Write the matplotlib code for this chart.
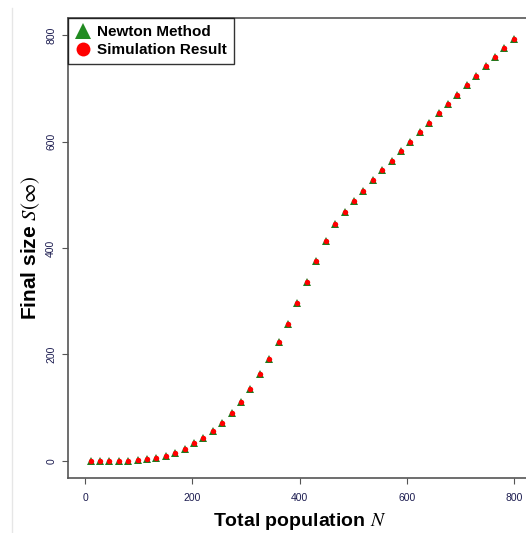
import matplotlib.pyplot as plt
from matplotlib.lines import Line2D

# --- values ---
total_population = [10, 27.6, 45.1, 62.7, 80.2, 97.8, 115.3, 132.9, 150.4, 168.0,
                    185.6, 203.1, 220.7, 238.2, 255.8, 273.3, 290.9, 308.4, 326.0, 343.6,
                    361.1, 378.7, 396.2, 413.8, 431.3, 448.9, 466.4, 484.0, 501.6, 519.1,
                    536.7, 554.2, 571.8, 589.3, 606.9, 624.4, 642.0, 659.6, 677.1, 694.7,
                    712.2, 729.8, 747.3, 764.9, 782.4, 800]
newton_final = [0, 0, 0, 0, 0, 1, 3, 6, 10, 15,
                22, 33, 44, 56, 72, 90, 111, 136, 163, 191,
                224, 258, 296, 336, 376, 414, 445, 468, 489, 508,
                528, 546, 564, 582, 600, 617, 635, 653, 671, 688,
                706, 723, 741, 758, 776, 793]
simulation_final = [0, 0, 0, 0, 0, 1, 3, 6, 10, 15,
                    22, 33, 44, 56, 72, 90, 111, 136, 163, 191,
                    224, 258, 296, 336, 376, 414, 445, 468, 489, 508,
                    528, 546, 564, 582, 600, 617, 635, 653, 671, 688,
                    706, 723, 741, 758, 776, 793]
x_ticks = [0, 200, 400, 600, 800]
y_ticks = [0, 200, 400, 600, 800]

plt.rcParams['font.family'] = ['Liberation Sans', 'DejaVu Sans']
plt.rcParams['mathtext.fontset'] = 'stix'

fig = plt.figure(figsize=(5.26, 5.33), dpi=100)
ax = fig.add_axes([68 / 526, 55 / 533, 463 / 526, 460 / 533])

ax.plot(total_population, newton_final, linestyle='none', marker='^',
        color='#1f7a1f', markersize=5.3, markeredgewidth=0)
ax.plot(total_population, simulation_final, linestyle='none', marker='o',
        color='#FF0000', markersize=3.9, markeredgewidth=0)

ax.set_xlim(-32, 832)
ax.set_ylim(-32, 832)
ax.set_xticks(x_ticks)
ax.set_yticks(y_ticks)
ax.tick_params(axis='both', length=4.5, width=0.8, color='#555555',
               labelsize=7.5, labelcolor='#1c1c50')
ax.tick_params(axis='x', pad=6)
ax.tick_params(axis='y', pad=4)
for lbl in ax.get_yticklabels():
    lbl.set_rotation(90)
    lbl.set_va('center')

for side in ['left', 'bottom', 'top']:
    ax.spines[side].set_color('#555555')
    ax.spines[side].set_linewidth(1.2)
ax.spines['right'].set_visible(False)

ax.set_xlabel('Total population $N$', fontsize=14, fontweight='bold', labelpad=6)
ax.set_ylabel('Final size $S(\\infty)$', fontsize=15, fontweight='bold', labelpad=3)

handles = [
    Line2D([], [], linestyle='none', marker='^', color='#228B22', markersize=11, markeredgewidth=0),
    Line2D([], [], linestyle='none', marker='o', color='#FF0000', markersize=10, markeredgewidth=0),
]
leg = ax.legend(handles, ['Newton Method', 'Simulation Result'], loc='upper left',
                bbox_to_anchor=(0, 1), borderaxespad=0, frameon=True, fancybox=False,
                edgecolor='black', handletextpad=0.35, handlelength=1.1,
                borderpad=0.45, labelspacing=0.3, prop={'weight': 'bold', 'size': 11})
leg.get_frame().set_linewidth(1.0)

# faint border line at the left of the picture
fig.add_artist(Line2D([12 / 526, 12 / 526], [0, 1 - 8 / 533], color='#e6e6e6', linewidth=1))

fig.savefig('out.png', dpi=100, facecolor='white')
